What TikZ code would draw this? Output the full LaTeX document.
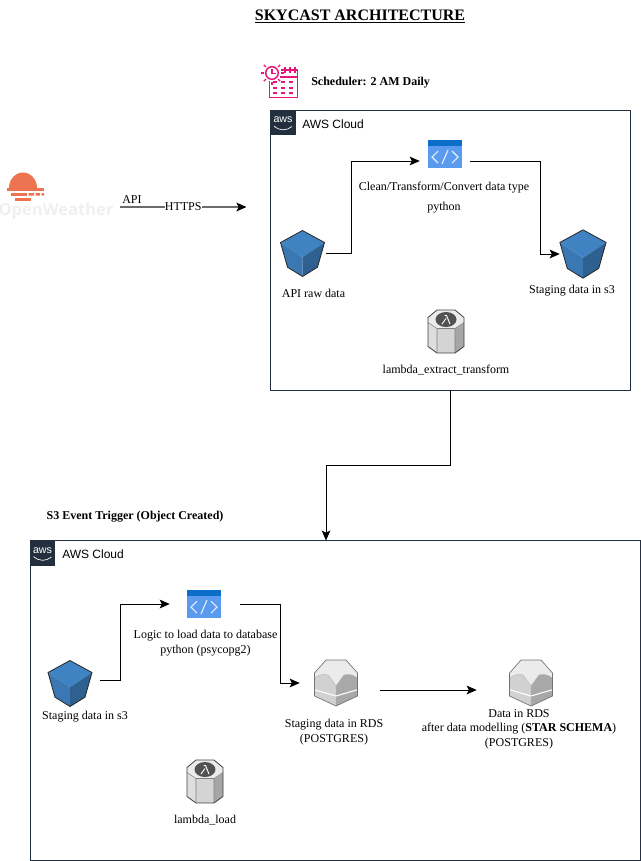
\documentclass[tikz,border=0pt]{standalone}
\usepackage{fontspec}
\setmainfont{Liberation Serif}
\newfontfamily\awsfont{Liberation Sans}
\newfontfamily\owfont{Open Sans}
\usetikzlibrary{arrows.meta,calc}
\definecolor{awsdark}{HTML}{232F3E}
\definecolor{bucketlight}{HTML}{3F83C3}
\definecolor{bucketleft}{HTML}{3A78B4}
\definecolor{bucketdark}{HTML}{2E6090}
\definecolor{codeblue}{HTML}{5A9BEF}
\definecolor{codestrip}{HTML}{0D6EC9}
\definecolor{schedpink}{HTML}{E7157B}
\definecolor{owsun}{HTML}{EE7350}
\tikzset{
 flow/.style={-{Stealth[length=7.5pt,width=6.5pt,inset=1.6pt]},line width=.7pt,black},
 apiline/.style={-{Stealth[length=7.5pt,width=6.5pt,inset=1.6pt,color=black]},line width=.9pt,black!58},
 lbl/.style={font=\fontsize{9pt}{11pt}\selectfont,align=center,inner sep=0pt},
 boldlbl/.style={lbl,font=\fontsize{9pt}{11pt}\selectfont\bfseries},
 awsbox/.style={draw=awsdark,line width=.7pt,inner sep=0pt},
 spot/.style={inner sep=0pt,minimum height=0pt,minimum width=#1},
 bucketicon/.pic={
  \fill[bucketlight] (0,-23)--(22,-11)--(0,3.7)--(-22,-11)--cycle;
  \fill[bucketleft] (-22,-11)--(0,3.7)--(0,23)--(-15,13.7)--cycle;
  \fill[bucketdark] (0,3.7)--(22,-11)--(15,13.7)--(0,23)--cycle;
  \draw[draw=black!85,line width=.6pt] (0,-23)--(22,-11)--(15,13.7)--(0,23)--(-15,13.7)--(-22,-11)--cycle;
 },
 codeicon/.pic={
  \fill[codeblue] (-17,-14) rectangle (17,14);
  \fill[codestrip] (-17,-14) rectangle (17,-8);
  \draw[white!85!codeblue,line width=.8pt] (-7,-3)--(-13,3)--(-7,9) (7,-3)--(13,3)--(7,9) (3,-4)--(-3,10);
 },
 lambdaicon/.pic={
  \fill[black!13] (-9,-3)--(-18,-9)--(-18,15)--(-9,21.5)--cycle;
  \fill[black!17] (-9,-3)--(9,-3)--(9,21.5)--(-9,21.5)--cycle;
  \fill[black!35] (9,-3)--(18,-9)--(18,15)--(9,21.5)--cycle;
  \fill[black!8] (-18,-14)--(-9,-21.5)--(9,-21.5)--(18,-14)--(18,-9)--(9,-3)--(-9,-3)--(-18,-9)--cycle;
  \draw[black!50,line width=.4pt] (-18,-9)--(-9,-3)--(9,-3)--(18,-9) (-9,-3)--(-9,21.5) (9,-3)--(9,21.5);
  \draw[black!75,line width=.6pt] (-18,-14)--(-9,-21.5)--(9,-21.5)--(18,-14)--(18,15)--(9,21.5)--(-9,21.5)--(-18,15)--cycle;
  \fill[black!68] (0,-12) ellipse (10.5 and 7.5);
  \draw[white,line width=.7pt] (-4,-7.5)--(0,-13) (-1.5,-16)--(.5,-16)--(4,-7.5);
 },
 rdsicon/.pic={
  \fill[black!8] (-10,-23)--(10,-23)--(21.5,-10)--(21.5,0)--(0,3)--(-21.5,0)--(-21.5,-10)--cycle;
  \fill[black!18] (-21.5,-5)..controls (-16,-9) and (-11,-9)..(-8,-8)--(0,3)--(0,23)--(-21.5,13)--cycle;
  \fill[black!34] (21.5,-5)..controls (16,-9) and (11,-9)..(8,-8)--(0,3)--(0,23)--(21.5,13)--cycle;
  \draw[white,line width=.8pt] (-21.5,6.7)--(0,13)--(21.5,6.7);
  \draw[black!30,line width=.3pt] (-21.5,-5)..controls (-16,-9) and (-11,-9)..(-8,-8)--(0,3)--(8,-8)..controls (11,-9) and (16,-9)..(21.5,-5) (0,3)--(0,23);
  \draw[black!55,line width=.5pt] (-21.5,-10)--(-10,-23)--(10,-23)--(21.5,-10)--(21.5,13)--(0,23)--(-21.5,13)--cycle;
 },
 awslogo/.pic={
  \fill[awsdark] (0,0) rectangle (25,25);
  \node[white,inner sep=0pt,font=\awsfont\fontsize{8pt}{8pt}\selectfont] at (12.5,10) {aws};
  \draw[white,line width=.5pt] (3.5,16)..controls (9,21) and (16,21)..(21.5,16.5);
 },
}
\begin{document}
\begin{tikzpicture}[x=.75pt,y=-.75pt]
\useasboundingbox (0,0) rectangle (641,861);
\node[font=\fontsize{12pt}{14pt}\selectfont\bfseries,inner sep=0pt] (title) at (360,16.5) {\underline{SKYCAST ARCHITECTURE}};
% scheduler
\draw[schedpink,line width=1.1pt] (272,73) circle (6.3);
\draw[schedpink,line width=.9pt] (272,69)--(272,73.5)--(276,73.5);
\foreach \a in {90,45,135,180,225,0,-45}
 \draw[schedpink,line width=1pt] ($(272,73)+(\a:8.5)$)--($(272,73)+(\a:11.5)$);
\draw[schedpink,line width=1.1pt] (269.5,81)--(269.5,97.5)--(297.5,97.5)--(297.5,70)--(280.5,70);
\draw[schedpink,line width=1.1pt] (280,77)--(297.5,77);
\foreach \x in {285,290,295} \draw[schedpink,line width=.9pt] (\x,67)--(\x,73);
\foreach \x in {275,283,291} \foreach \y in {82,88,93} \draw[schedpink,line width=1pt] (\x-1.7,\y)--(\x+1.7,\y);
\node[boldlbl,anchor=west] (schedlabel) at (311,82.5) {Scheduler: 2 AM Daily};
% openweather
\fill[owsun] (9,188) arc (180:360:14 and 15.5)--cycle;
\fill[owsun] (7,188) rectangle (44,191);
\fill[owsun] (11,193) rectangle (27,195.5);
\fill[owsun] (28.5,193) rectangle (34,195.5) (35.5,193) rectangle (40,195.5) (41.5,193) rectangle (44,195.5);
\fill[owsun] (15,198) rectangle (31,200.5);
\node[font=\owfont\bfseries\fontsize{12.4pt}{14pt}\selectfont,text=black!6,inner sep=0pt] (owlogo) at (56,211) {OpenWeather};
\coordinate (apistart) at (120,207);
\coordinate (apiend) at (246.5,207);
\draw[apiline] (apistart)--(apiend) node[lbl,midway,fill=white,text=black,inner ysep=1pt] (https) {HTTPS};
\node[lbl] (apilabel) at (132,200) {API};
% first cloud
\node[awsbox,minimum width=270pt,minimum height=210pt] (cloudone) at (450.5,250) {};
\pic at (270.5,110) {awslogo};
\node[font=\awsfont\fontsize{9pt}{10pt}\selectfont,inner sep=0pt,anchor=west] (cloudonelabel) at (302,124) {AWS Cloud};
\pic at (302.5,253.5) {bucketicon};
\pic at (445,154) {codeicon};
\pic[scale=1.05] at (583,254) {bucketicon};
\pic at (446,331.5) {lambdaicon};
\node[spot=34.5pt] (rawbucket) at (302.5,253) {};
\node[spot=37.5pt] (extractcode) at (445,161) {};
\node[spot=34.5pt] (stagebucket) at (583,254) {};
\node[lbl] (rawlabel) at (313.5,293) {API raw data};
\node[lbl,font=\fontsize{9pt}{15pt}\selectfont] (extractlabel) at (444,198) {Clean/Transform/Convert data type\\python};
\node[lbl] (stagelabel) at (572,291) {Staging data in s3};
\node[lbl] (lambdaone) at (446,370.5) {lambda\_extract\_transform};
\draw[flow] (rawbucket.east)--(351,253)|-(extractcode.west);
\draw[flow] (extractcode.east)--(540,161)|-(stagebucket.west);
% second cloud
\node[boldlbl] (triggerlabel) at (135,516.5) {S3 Event Trigger (Object Created)};
\node[awsbox,minimum width=457.5pt,minimum height=240pt] (cloudtwo) at (335,700.5) {};
\coordinate (cloudtwoin) at (326,540.5);
\draw[flow] (cloudone.south)--++(0,75)-|(cloudtwoin);
\pic at (30,540.5) {awslogo};
\node[font=\awsfont\fontsize{9pt}{10pt}\selectfont,inner sep=0pt,anchor=west] (cloudtwolabel) at (62,554) {AWS Cloud};
\pic at (70,683.5) {bucketicon};
\pic at (204,604) {codeicon};
\pic at (336,683) {rdsicon};
\pic at (531,683) {rdsicon};
\pic at (205,781.5) {lambdaicon};
\node[spot=45pt] (loadbucket) at (70,680) {};
\node[spot=52.5pt] (loadcode) at (205,604) {};
\node[spot=60pt] (stagingrds) at (340,683) {};
\node[spot=0pt] (modelrds) at (477,690) {};
\node[lbl] (loadbucketlabel) at (85,716.5) {Staging data in s3};
\node[lbl] (loadcodelabel) at (205.5,643) {Logic to load data to database\\python (psycopg2)};
\node[lbl] (stagingrdslabel) at (334,732) {Staging data in RDS\\(POSTGRES)};
\node[lbl] (modelrdslabel) at (519,729) {Data in RDS\\after data modelling (\textbf{STAR SCHEMA})\\(POSTGRES)};
\node[lbl] (lambdatwo) at (205,820.5) {lambda\_load};
\draw[flow] (loadbucket.east)--(120,680)|-(loadcode.west);
\draw[flow] (loadcode.east)--(280,604)|-(stagingrds.west);
\draw[flow] ([yshift=-5.25pt]stagingrds.east)--(modelrds);
\end{tikzpicture}
\end{document}
